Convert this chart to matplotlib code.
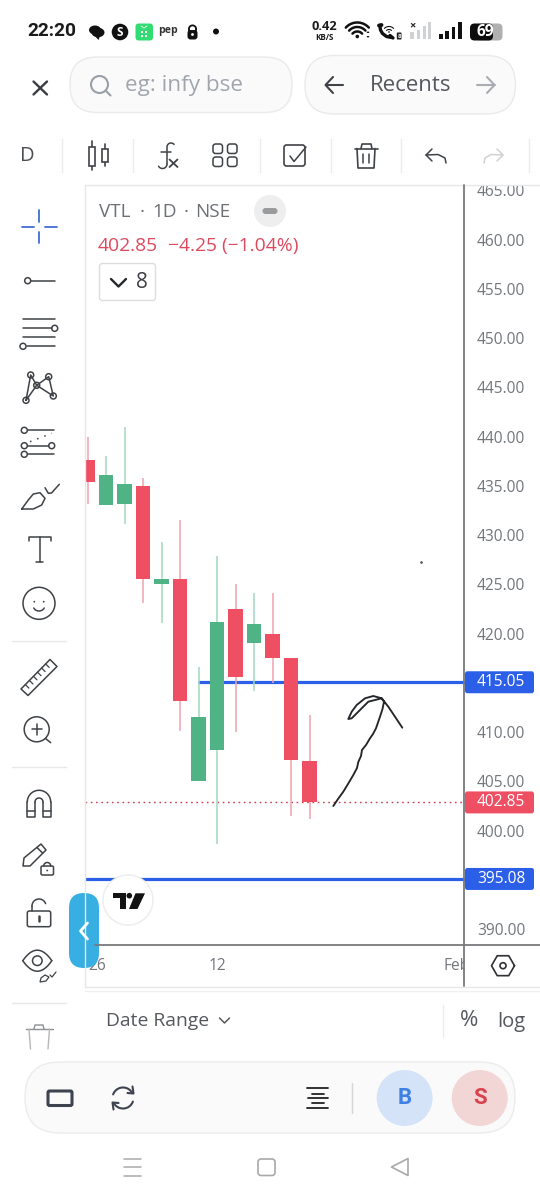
import numpy as np
import matplotlib
matplotlib.use("Agg")
import matplotlib.pyplot as plt
from matplotlib.patches import Circle, Ellipse, FancyBboxPatch, Polygon, Rectangle

plt.rcParams['font.family'] = ['Open Sans', 'DejaVu Sans']

# daily candles for VTL
opens = [437.6, 433.0, 433.1, 435.0, 425.0, 425.5, 405.05, 408.15, 422.5, 419.05, 420.0, 417.55, 407.05]
highs = [439.95, 438.0, 440.95, 435.8, 429.3, 431.5, 416.6, 427.85, 425.0, 424.1, 424.1, 417.55, 411.75]
lows = [433.15, 433.0, 431.1, 423.1, 421.1, 410.1, 405.05, 398.6, 410.0, 414.2, 415.0, 401.45, 401.15]
closes = [435.4, 436.1, 435.15, 425.55, 425.5, 413.1, 411.55, 421.15, 415.6, 421.0, 417.5, 407.15, 402.85]

price_ticks = [465, 460, 455, 450, 445, 440, 435, 430, 425, 420, 410, 405, 400, 390]
date_pos = [0.5, 7, 19.96]
date_labels = ["26", "12", "Feb"]

last_price = 402.85
level_upper = 415.05
level_lower = 395.08
upper_start = 5.95

# pen stroke drawn by hand over the chart, screen pixels
ink_x = [333.3, 338, 343.3, 348, 353.3, 357, 358.3, 361, 362, 366, 370, 373, 376, 380, 382.5, 384, 381.7, 373.3, 365, 356.7,
         351.7, 348.3, 351.7, 360, 368.3, 381.7, 388.3, 395, 402.3]
ink_y = [806, 799, 791.7, 784, 775, 768, 762, 756, 750, 745, 738.3, 734, 728.3, 716.7, 709, 701.7, 698.3, 696, 698.3, 705,
         711.7, 719, 718.3, 710, 701.7, 698.3, 706.7, 716.7, 727.7]

RED = "#ee4f63"
RED_WICK = "#eea3ae"
GREEN = "#4fb385"
GREEN_WICK = "#a4d7bf"
BLUE = "#2b5fe8"
GREY_TEXT = "#73777c"
ICON = "#3f4246"
BORDER = "#e6e7e9"
AXIS = "#77797c"

W, H = 540, 1200
LEFT, RIGHT, TOP, BOTTOM = 85, 465, 184.5, 944.5
YMAX = 390 + (929 - TOP) / 9.85
YMIN = 390 + (929 - BOTTOM) / 9.85
XMIN = (LEFT - 87.7) / 18.5
XMAX = (RIGHT - 87.7) / 18.5

fig = plt.figure(figsize=(W / 100, H / 100), dpi=100, facecolor="white")

# price chart
ax = fig.add_axes([LEFT / W, 1 - BOTTOM / H, (RIGHT - LEFT) / W, (BOTTOM - TOP) / H])
ax.set_xlim(XMIN, XMAX)
ax.set_ylim(YMIN, YMAX)
for s in ax.spines.values():
    s.set_visible(False)

ax.hlines(level_upper, upper_start, XMAX, color=BLUE, lw=2.3, zorder=1)
ax.hlines(level_lower, XMIN, XMAX, color=BLUE, lw=2.3, zorder=1)
ax.hlines(last_price, XMIN, XMAX, color="#c4404f", lw=1.0, linestyles=(0, (1.2, 2.6)), zorder=1)

xs = np.arange(len(opens))
up = [c >= o for o, c in zip(opens, closes)]
wick_cols = [GREEN_WICK if u else RED_WICK for u in up]
body_cols = [GREEN if u else RED for u in up]
ax.vlines(xs, lows, highs, colors=wick_cols, lw=1.1, zorder=2)
ax.bar(xs, np.abs(np.array(closes) - np.array(opens)), bottom=np.minimum(opens, closes),
       width=0.78, color=body_cols, linewidth=0, zorder=3)

ax.yaxis.tick_right()
ax.set_yticks(price_ticks)
ax.set_yticklabels([f"{p:.2f}" for p in price_ticks], fontsize=11.2, color=GREY_TEXT)
ax.tick_params(axis="y", length=0, pad=8.5)
ax.set_xticks(date_pos)
ax.set_xticklabels(date_labels, fontsize=11.2, color=GREY_TEXT)
ax.tick_params(axis="x", length=0, pad=9.5)

# app screen around the chart, in pixels from the top left
ui = fig.add_axes([0, 0, 1, 1], facecolor="none")
ui.set_xlim(0, W)
ui.set_ylim(H, 0)
ui.axis("off")


def line(xs_, ys_, c=ICON, lw=1.1, **kw):
    ui.plot(xs_, ys_, color=c, lw=lw, solid_capstyle="round", solid_joinstyle="round", **kw)


def circle(x, y, r, fc="none", ec=ICON, lw=1.1):
    ui.add_patch(Circle((x, y), r, facecolor=fc, edgecolor=ec, lw=lw))


def box(x0, y0, x1, y1, r, fc="none", ec=ICON, lw=1.1):
    ui.add_patch(FancyBboxPatch((x0, y0), x1 - x0, y1 - y0, boxstyle=f"round,pad=0,rounding_size={r}",
                                facecolor=fc, edgecolor=ec, lw=lw))


def arc(x, y, r, a0, a1, c=ICON, lw=1.1):
    t = np.radians(np.linspace(a0, a1, 40))
    line(x + r * np.cos(t), y + r * np.sin(t), c=c, lw=lw)


def label(x, y, s, size=11.2, c=GREY_TEXT, ha="center", **kw):
    ui.text(x, y, s, fontsize=size, color=c, ha=ha, va="center", **kw)


def price_y(p):
    return TOP + (YMAX - p) / (YMAX - YMIN) * (BOTTOM - TOP)


# covers that cut off the top price label and the Feb label
ui.add_patch(Rectangle((0, 0), W, TOP, fc="white", ec="none"))
ui.add_patch(Rectangle((RIGHT, BOTTOM), W - RIGHT, 42, fc="white", ec="none"))

# chart frame
line([LEFT, LEFT], [TOP, 987], c=BORDER, lw=1.0)
line([LEFT, W], [TOP, TOP], c=BORDER, lw=1.0)
line([LEFT, W], [986.7, 986.7], c=BORDER, lw=1.0)
line([LEFT, W], [991, 991], c="#f0f0f1", lw=1.0)
line([RIGHT - 1, RIGHT - 1], [TOP, 986], c=AXIS, lw=1.3)
line([95, W], [BOTTOM, BOTTOM], c=AXIS, lw=1.3)

# price tags on the scale
for p, col in [(level_upper, BLUE), (last_price, RED), (level_lower, BLUE)]:
    yy = price_y(p)
    box(RIGHT, yy - 11, 534, yy + 11, 2.5, fc=col, ec="none")
    label(501, yy, f"{p:.2f}", c="white")

# legend block
label(99, 212, "VTL", 13.6, "#6c7075", ha="left")
label(142, 212, "·", 13.6, "#6c7075")
label(152.5, 212, "1D", 13.6, "#6c7075", ha="left")
label(186, 212, "·", 13.6, "#6c7075")
label(195, 212, "NSE", 13.6, "#6c7075", ha="left")
circle(270, 211, 16, fc="#eeeeee", ec="none")
box(262.5, 208, 277.5, 214, 3, fc="#9a9b9d", ec="none")
label(98, 246, f"{last_price:.2f}", 13.9, "#dc4a5e", ha="left")
label(168, 246, "\u22124.25 (\u22121.04%)", 13.9, "#dc4a5e", ha="left")
box(99.5, 263.5, 155.5, 300.5, 3, fc="white", ec="#dcdde0", lw=1.0)
line([111, 118.5, 126], [279, 286.5, 279], c="#26282b", lw=1.7)
label(142, 283, "8", 15, "#3c3f43")

# pen stroke
line(ink_x, ink_y, c="#24262a", lw=1.35)
ui.plot([421], [562], marker="o", ms=0.9, color="#555555")

# status bar
ui.text(27, 31.5, "22:20", fontsize=13.8, fontweight="semibold", color="#1b1b1b", va="center",
        family=["Roboto", "DejaVu Sans"])
ui.add_patch(Ellipse((95, 30), 12, 9, fc="#121212", ec="none"))
ui.add_patch(Ellipse((98, 32.5), 13, 9.5, fc="#121212", ec="none"))
ui.add_patch(Polygon([[94, 35], [100, 36], [98.5, 40]], fc="#121212", ec="none"))
circle(120, 32, 8.3, fc="#111111", ec="none")
label(120, 32, "S", 8.5, "white", fontweight="bold")
box(135.5, 23.5, 153, 40.5, 3.2, fc="#31dc72", ec="none")
line([141, 144, 147], [26, 28, 26], c="white", lw=0.6)
for dx, dy in [(-2, 0), (2, 0), (-2, 4), (2, 4)]:
    ui.add_patch(Rectangle((144 + dx - 1.3, 32 + dy - 1.3), 2.6, 2.6, fc="white", ec="none"))
label(167.7, 30.5, "pep", 7.6, "#333333", fontweight="bold")
arc(192.5, 29, 3.6, 180, 360, c="#111111", lw=1.3)
line([188.9, 188.9], [29, 31], c="#111111", lw=1.3)
line([196.1, 196.1], [29, 31], c="#111111", lw=1.3)
box(187.5, 30, 197.5, 39.5, 3, fc="#111111", ec="none")
circle(192.5, 34.5, 1.4, fc="white", ec="none")
circle(216, 31.5, 3, fc="#111111", ec="none")
label(324, 26.5, "0.42", 9.2, "#1b1b1b", fontweight="bold")
label(324.5, 37, "KB/S", 5.8, "#1b1b1b", fontweight="bold")
for r in [6.5, 11, 15.5]:
    arc(357.3, 38, r, 222, 318, c="#111111", lw=1.8)
circle(357.3, 36.5, 1.8, fc="#111111", ec="none")
ui.add_patch(Polygon([[366.5, 33], [369.5, 33], [368, 31]], fc="#111111", ec="none"))
ui.add_patch(Polygon([[366.5, 36], [369.5, 36], [368, 38]], fc="#111111", ec="none"))
line([380, 380.5, 382.5, 386.5, 391.5], [26.5, 30, 33.5, 36.5, 37.5], c="#111111", lw=2.4)
line([379, 381.5], [25.5, 25], c="#111111", lw=2.8)
line([390, 393], [35.5, 38], c="#111111", lw=2.4)
arc(389, 33, 3.5, 225, 315, c="#111111", lw=0.8)
arc(389, 33, 6.5, 225, 315, c="#111111", lw=0.8)
circle(389, 32, 0.8, fc="#111111", ec="none")
box(396.8, 32.5, 401.5, 39.5, 0.8, fc="#222222", ec="none")
label(399.1, 36, "8", 4.2, "white", fontweight="bold")
label(412, 26, "\u00d7", 8, "#222222", fontweight="bold")
for x, h_ in zip([412, 418.5, 424.5, 429.5], [7, 9, 13, 17]):
    ui.add_patch(Rectangle((x - 1.7, 39 - h_), 3.4, h_, fc="#d0d1d2", ec="none"))
for x, h_ in zip([441, 447, 453.5, 460], [5, 8, 12.5, 17]):
    ui.add_patch(Rectangle((x - 1.8, 39 - h_), 3.6, h_, fc="#111111", ec="none"))
box(476, 23.5, 502.5, 40.5, 4.5, fc="#b0b0b0", ec="none")
box(470, 23.5, 493, 40.5, 4.5, fc="#0d0d0d", ec="none")
label(485.5, 31.5, "69", 11.2, "white", fontweight="bold")

# search row
line([33.5, 47], [81.5, 94.5], c="#3a3d41", lw=1.7)
line([33.5, 47], [94.5, 81.5], c="#3a3d41", lw=1.7)
box(70, 57, 292, 112.5, 27, fc="#fafafb", ec="#e9eaec", lw=1.0)
circle(99.5, 84.5, 8.5, ec="#9aa0a7", lw=1.5)
line([105.5, 110.5], [90.5, 95.5], c="#9aa0a7", lw=1.5)
label(125, 85.5, "eg: infy bse", 16.2, "#a1a6ad", ha="left")
box(305, 55.5, 515.5, 114, 29, fc="#fafafb", ec="#e9eaec", lw=1.0)
line([325.5, 343], [85, 85], c="#3f4246", lw=1.5)
line([333, 325.5, 333], [77, 85, 93], c="#3f4246", lw=1.5)
label(369.5, 85.5, "Recents", 16, "#54585d", ha="left")
line([477, 494.5], [85, 85], c="#a9adb2", lw=1.5)
line([487, 494.5, 487], [77, 85, 93], c="#a9adb2", lw=1.5)

# tools row
label(27.5, 156, "D", 14.5, "#4a4d51")
for x in [62.3, 132.6, 260.3, 330.6, 401, 528.6]:
    line([x, x], [139, 172], c="#ebebec", lw=1.0)
line([91.5, 91.5], [141, 170], lw=1.2)
ui.add_patch(Rectangle((88.5, 146.7), 6, 19, fc="white", ec=ICON, lw=1.2, zorder=3))
line([104.5, 104.5], [144, 166], lw=1.2)
ui.add_patch(Rectangle((101.5, 149), 6, 13, fc="white", ec=ICON, lw=1.2, zorder=3))
arc(171, 147, 4, 190, 320, lw=1.1)
line([167, 167], [147, 164], lw=1.1)
arc(162.5, 164, 4.5, 0, 150, lw=1.1)
line([161, 170.7], [151.7, 151.7], lw=1.1)
line([169.5, 177.5], [159.5, 167], lw=1.3)
line([169.5, 177.5], [167, 159.5], lw=1.3)
for x0 in [213, 227.5]:
    for y0 in [144, 157]:
        box(x0, y0, x0 + 9.5, y0 + 9.5, 2.6)
box(284, 145, 305, 166, 2.6, lw=1.2)
line([290, 294, 306], [156, 161.5, 147], lw=1.1)
line([354.5, 377.5], [148.5, 148.5], lw=1.2)
line([361, 362, 371, 372], [148.5, 144, 144, 148.5], lw=1.2)
line([357, 358, 374, 375], [148.5, 168, 168, 148.5], lw=1.2)
line([363, 363], [154, 163], lw=1.1)
line([369, 369], [154, 163], lw=1.1)
line([432, 426, 432], [149, 155, 161], lw=1.1)
line([426, 438, 445, 446], [155, 154.5, 158, 163], lw=1.1)
line([497, 503, 497], [149, 155, 161], c="#d0d1d3", lw=1.1)
line([503, 491, 485, 484], [155, 154.5, 158, 163], c="#d0d1d3", lw=1.1)

# drawing tools down the left side
CROSS = "#3f6fd6"
line([22, 34], [226.7, 226.7], c=CROSS, lw=1.3)
line([45, 57], [226.7, 226.7], c=CROSS, lw=1.3)
line([39.3, 39.3], [209.5, 222], c=CROSS, lw=1.3)
line([39.3, 39.3], [232, 243], c=CROSS, lw=1.3)
line([31, 55], [280.7, 280.7])
circle(27.7, 280.7, 3)
for yy, x0, x1 in [(319.3, 22.7, 55), (328.3, 22.7, 51.5), (337.3, 22.7, 55), (346.3, 26.5, 55)]:
    line([x0, x1], [yy, yy])
circle(54.7, 328.3, 3)
circle(23, 346.3, 3)
nx = [26, 30.7, 36.7, 48.7, 53.3, 36.7, 26]
ny = [400.3, 375, 385.3, 376.7, 396, 385.3, 400.3]
line(nx, ny)
for x, y in zip(nx[:5], ny[:5]):
    circle(x, y, 3, fc="white")
line([27.5, 54], [430.3, 430.3])
line([27.5, 48.5], [445.7, 445.7])
line([27.5, 54], [454.3, 454.3])
line([30, 51.7], [441.7, 433.3], ls=(0, (1, 4)))
for x, y in [(24.3, 430.3), (24.3, 445.7), (51.7, 445.7), (24.3, 454.3)]:
    circle(x, y, 3)
line([21.7, 33.3, 41.7, 45, 40, 33.3, 28.3, 21.7], [509, 509, 505, 498.3, 492.7, 494, 500, 509])
line([45, 48.3, 51.5, 59.3], [487.7, 493.3, 493, 484.3])
line([29, 29, 50.7, 50.7], [541, 536.7, 536.7, 541])
line([39.7, 39.7], [536.7, 562])
line([36, 43.3], [562, 562])
circle(39, 603.3, 16)
circle(34.3, 601.7, 0.9, fc=ICON, ec="none")
circle(43.7, 601.7, 0.9, fc=ICON, ec="none")
arc(39, 605, 6, 30, 150)
line([12, 66], [641, 641], c="#e8e8e9", lw=1.0)
ui.add_patch(Polygon([[21, 689], [50, 659.5], [57, 666.5], [28, 695.5]], fc="none", ec=ICON, lw=1.1, joinstyle="round"))
for t in np.linspace(0.15, 0.85, 6):
    x0, y0 = 21 + 29 * t, 689 - 29.5 * t
    line([x0, x0 + 3.5], [y0, y0 + 3.5], lw=0.9)
circle(36.7, 729.3, 12.5)
line([45.5, 50.7], [738.5, 742.7])
line([31.5, 42], [729.3, 729.3])
line([36.7, 36.7], [724, 734.5])
line([12, 66], [767.3, 767.3], c="#e8e8e9", lw=1.0)
arc(39, 802, 11.7, 180, 360)
arc(39, 802, 4, 180, 360)
line([27.3, 27.3, 35, 35], [802, 817, 817, 802])
line([43, 43, 50.7, 50.7], [802, 817, 817, 802])
line([27.3, 35], [811, 811])
line([43, 50.7], [811, 811])
ui.add_patch(Polygon([[23, 866], [24, 858], [41, 844], [46, 850], [30, 866]], fc="none", ec=ICON, lw=1.1, joinstyle="round"))
line([37, 42.5], [847.5, 853])
box(41, 866, 53.5, 875, 1.5)
arc(47.2, 866, 3.5, 180, 360)
circle(47.2, 870.5, 0.9, fc=ICON, ec="none")
box(27.3, 911, 50.7, 926.7, 2)
arc(39, 906, 7, 180, 340)
line([32, 32], [906, 911])
line([39, 39], [916, 921], lw=1.8)
# eye outline
eye_x = np.linspace(-14.5, 14.5, 40)
eye_h = 10.5 * (1 - (eye_x / 14.5) ** 2)
line(37.3 + eye_x, 960.7 - eye_h)
line(37.3 + eye_x, 960.7 + eye_h)
circle(37.3, 960.7, 4.8)
ui.add_patch(Polygon([[40, 982], [46, 981], [49, 977], [45, 975], [41, 978]], fc="none", ec=ICON, lw=0.9))
line([50, 52, 56], [975, 977, 972], lw=0.9)
line([12, 66], [1003.3, 1003.3], c="#e8e8e9", lw=1.0)
line([26, 52.7], [1029, 1029], c="#8d8f92", lw=1.0)
line([34, 35, 43, 44], [1029, 1025, 1025, 1029], c="#8d8f92", lw=1.0)
line([29, 30.5], [1029, 1049], c="#b5b6b8", lw=1.0)
line([49.5, 48], [1029, 1049], c="#b5b6b8", lw=1.0)

# handle and logo sitting on the chart
circle(128, 900, 25, fc="white", ec="#ececed", lw=1.0)
ui.add_patch(Polygon([[112.7, 893.3], [125.7, 893.3], [125.7, 909], [120, 909], [120, 898], [112.7, 898]], fc="#131313", ec="none"))
circle(129.3, 895.7, 2.8, fc="#131313", ec="none")
ui.add_patch(Polygon([[135.5, 893.3], [145, 893.3], [137.5, 909], [129, 909]], fc="#131313", ec="none"))
box(69, 893, 99, 968, 15, fc="#37afe2", ec="none")
line([87.5, 80.5, 87.5], [923, 931, 939], c="white", lw=2.0)

# scale settings
hx = 503 + 11.5 * np.cos(np.radians(np.arange(0, 361, 60)))
hy = 965.7 + 11.5 * np.sin(np.radians(np.arange(0, 361, 60)))
line(hx, hy, c="#2e3033", lw=1.2)
circle(503, 965.7, 3, ec="#2e3033", lw=1.2)

# range row
label(106, 1021.5, "Date Range", 13.9, "#55595e", ha="left")
line([219.5, 224.5, 229.5], [1018, 1023, 1018], c="#55595e", lw=1.1)
line([443, 443], [1005, 1037], c="#ececed", lw=1.0)
label(469.5, 1021, "%", 16, "#55595e")
label(511, 1021.5, "log", 14.5, "#55595e")

# order bar
box(25, 1062, 515, 1133, 35, fc="#fafafb", ec="#ececed", lw=1.0)
box(48, 1091, 72, 1105.5, 1.5, fc="none", ec="#3d4450", lw=2.2)
arc(123, 1098, 10.5, 200, 330, c="#3d4450", lw=1.5)
arc(123, 1098, 10.5, 20, 150, c="#3d4450", lw=1.5)
line([132.5, 133.5, 127.5], [1086.5, 1093.5, 1093], c="#3d4450", lw=1.5)
line([113.5, 112.5, 118.5], [1109.5, 1102.5, 1103], c="#3d4450", lw=1.5)
for yy, half in [(1088, 10.5), (1093.5, 6), (1098, 10), (1103, 6), (1108, 10.5)]:
    line([317.5 - half, 317.5 + half], [yy, yy], c="#1f2124", lw=1.3)
line([352, 352], [1083, 1113], c="#d5d6d8", lw=1.0)
circle(404.6, 1098, 28, fc="#d5e3f9", ec="none")
ui.text(404.6, 1098, "B", fontsize=16, fontweight="bold", color="#3f80e4", ha="center", va="center",
        family=["Roboto", "DejaVu Sans"])
circle(479.7, 1098, 28, fc="#f2d5d5", ec="none")
ui.text(479.7, 1098, "S", fontsize=16, fontweight="bold", color="#d8434d", ha="center", va="center",
        family=["Roboto", "DejaVu Sans"])

# navigation bar
for yy in [1158.5, 1167, 1175.5]:
    line([124, 141], [yy, yy], c="#a9a9aa", lw=1.1)
box(258, 1159, 275, 1175.5, 3, ec="#a9a9aa", lw=1.2)
ui.add_patch(Polygon([[408, 1158.5], [408, 1175.5], [391.5, 1167]], fc="none", ec="#a9a9aa", lw=1.2, joinstyle="round"))

fig.savefig("out.png", dpi=100)
